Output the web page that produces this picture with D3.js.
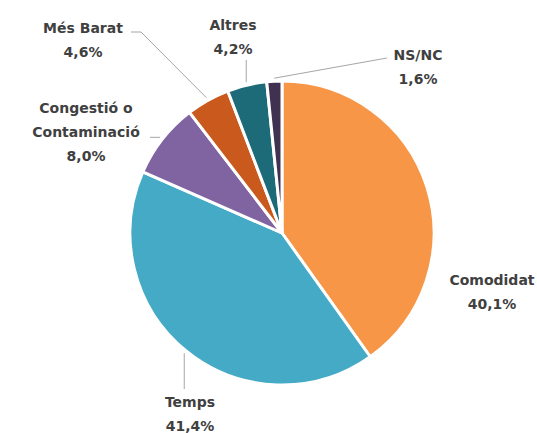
<!DOCTYPE html>
<html lang="ca">
<head>
    <meta charset="UTF-8">
    <title>Motius</title>
    <script src="https://d3js.org/d3.v7.min.js"></script>
    <style>
        body {
            margin: 0;
            background: #fff;
        }
        .label {
            font-family: "DejaVu Sans", sans-serif;
            font-weight: bold;
            font-size: 14px;
            fill: #404040;
        }
        .leader {
            fill: none;
            stroke: #a6a6a6;
            stroke-width: 1px;
        }
    </style>
</head>
<body>
    <svg width="537" height="433"></svg>

    <script>
        // Data
        const categories = ["Comodidat", "Temps", "Congestió o Contaminació", "Més Barat", "Altres", "NS/NC"];
        const values = [40.1, 41.4, 8.0, 4.6, 4.2, 1.6];
        const colors = ["#f79646", "#45aac5", "#8064a2", "#c9591c", "#1d6a78", "#403151"];

        // Label layout: text lines, first baseline and leader points (arc point is computed)
        const labelLines = [["Comodidat"], ["Temps"], ["Congestió o", "Contaminació"], ["Més Barat"], ["Altres"], ["NS/NC"]];
        const labelLayout = [
            { x: 492, y: 285, leader: null },
            { x: 190, y: 407, leader: "down", to: 389 },
            { x: 86, y: 113, leader: [[150, 0]] },
            { x: 83, y: 33, leader: [[141, 32], [131, 32]] },
            { x: 233, y: 30, leader: "up", to: 60 },
            { x: 418, y: 60, leader: [[387, 58]] }
        ];

        const svg = d3.select("svg");
        const cx = 282, cy = 233, radius = 152;

        const pie = d3.pie().sort(null).value(d => d);
        const arcs = pie(values);
        const arc = d3.arc().innerRadius(0).outerRadius(radius);

        const g = svg.append("g").attr("transform", `translate(${cx},${cy})`);

        g.selectAll("path.slice")
            .data(arcs)
            .enter().append("path")
            .attr("class", "slice")
            .attr("d", arc)
            .attr("fill", (d, i) => colors[i])
            .attr("stroke", "#fff")
            .attr("stroke-width", 3)
            .attr("stroke-linejoin", "round");

        const fmt = v => d3.format(".1f")(v).replace(".", ",") + "%";

        // leaders
        arcs.forEach((d, i) => {
            const lay = labelLayout[i];
            if (!lay.leader) return;
            const mid = (d.startAngle + d.endAngle) / 2;
            const r = radius + 3;
            const p0 = [cx + r * Math.sin(mid), cy - r * Math.cos(mid)];
            let pts;
            if (lay.leader === "down" || lay.leader === "up") {
                pts = [p0, [p0[0], lay.to]];
            } else {
                pts = [p0].concat(lay.leader.map(p => [p[0], p[1] || p0[1]]));
            }
            svg.append("path")
                .attr("class", "leader")
                .attr("d", d3.line()(pts));
        });

        // labels
        arcs.forEach((d, i) => {
            const lay = labelLayout[i];
            const lines = labelLines[i].concat([fmt(values[i])]);
            const t = svg.append("text")
                .attr("class", "label")
                .attr("text-anchor", "middle");
            lines.forEach((line, j) => {
                t.append("tspan")
                    .attr("x", lay.x)
                    .attr("y", lay.y + j * 24)
                    .text(line);
            });
        });
    </script>
</body>
</html>
